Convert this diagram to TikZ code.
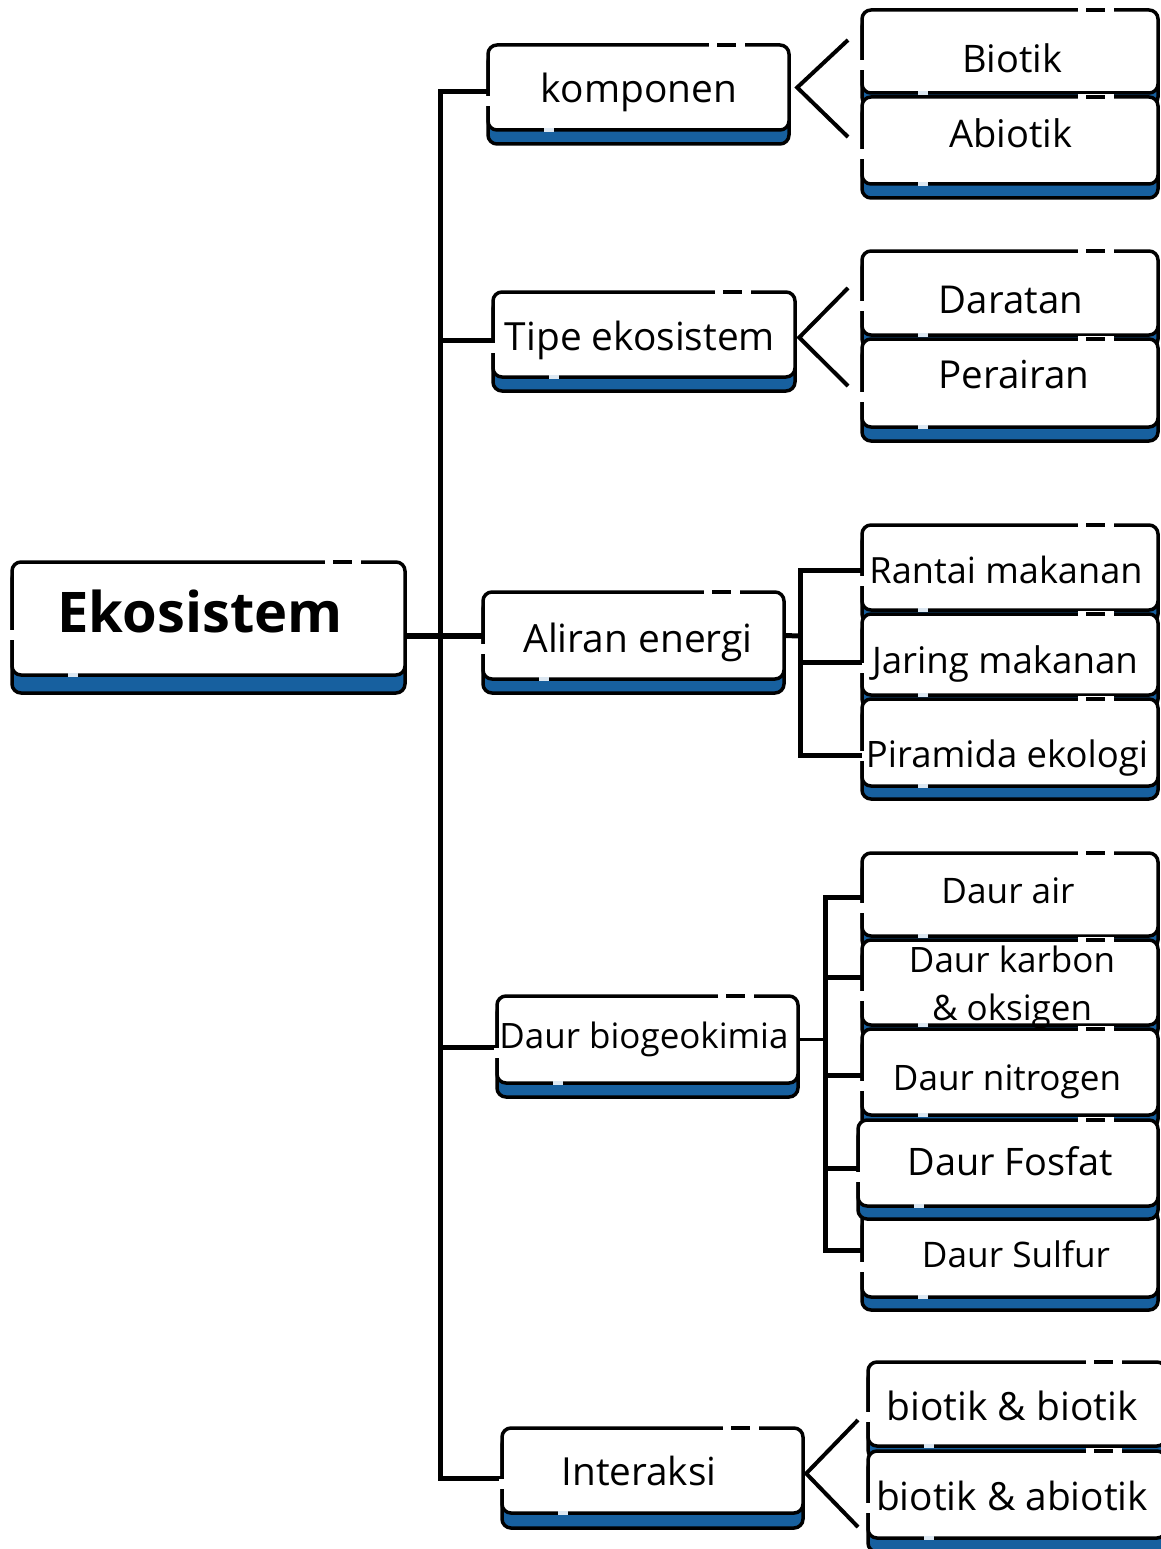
\documentclass[tikz,border=0pt]{standalone}
\usepackage{fontspec}
\usepackage{graphicx}
\setmainfont{Open Sans}
\definecolor{boxblue}{HTML}{17609F}
\newcommand\tw[2]{\resizebox{#1pt}{!}{#2}}
% name, x1, y1, x2, y2, blue depth, text x, text baseline y, text
\newcommand\ebox[9]{%
  \filldraw[fill=boxblue,draw=black,line width=3.5pt,rounded corners=9pt] (#2,#3+8) rectangle (#4,#5+#6);
  \filldraw[fill=white,draw=black,line width=3.5pt,rounded corners=9pt] (#2,#3) rectangle (#4,#5);
  \draw[white,line width=5.5pt] (#4-80,#3) -- (#4-44,#3);
  \draw[black,line width=3.5pt] (#4-72,#3) -- (#4-53,#3);
  \draw[white,line width=5.5pt] (#2,{#3+0.6*(#5-#3)}) -- (#2,{#3+0.6*(#5-#3)+10});
  \draw[white!85!boxblue,line width=4.5pt] (#2+56,#5) -- (#2+66,#5);
  \node[inner sep=0pt,minimum width={(#4-#2)*1pt},minimum height={(#5-#3)*1pt}] (#1) at ({(#2+#4)/2},{(#3+#5)/2}) {};
  \node[inner sep=0pt,anchor=base] (#1-t) at (#7,#8) {#9};
}
\tikzset{
  conn/.style={line width=5pt,black},
  thinconn/.style={line width=3.5pt,black},
  vee/.style={line width=4pt,black,line join=miter}
}
\begin{document}
\begin{tikzpicture}[x=1pt,y=-1pt]
\useasboundingbox (0,0) rectangle (1161,1549);
\fill[white] (0,0) rectangle (1161,1549);

% coordinates for connectors
\coordinate (ttop) at (440,92);
\coordinate (tbot) at (440,1478);
\coordinate (a0) at (800,636);
\coordinate (a1) at (800,570);
\coordinate (a2) at (800,662);
\coordinate (a3) at (800,755);
\coordinate (b1) at (825,897);
\coordinate (b2) at (825,977);
\coordinate (b3) at (825,1075);
\coordinate (b4) at (825,1168);
\coordinate (b5) at (825,1250);
\coordinate (k1) at (848,40);
\coordinate (k2) at (848,137);
\coordinate (p1) at (848,288);
\coordinate (p2) at (848,386);
\coordinate (i1) at (858,1420);
\coordinate (i2) at (858,1527);

% trunk and branches (drawn first, under boxes)
\draw[conn] (488,92) -- (ttop) -- (tbot) -- (502,1478);
\draw[conn] (440,340) -- (493,340);
\draw[conn] (440,1047) -- (497,1047);
\draw[line width=6pt] (405,636) -- (483,636);

% level 1 boxes
\ebox{eko}{12}{562}{405}{675}{18}{200}{632}{\tw{285}{\bfseries Ekosistem}}
\ebox{komp}{488}{45}{789}{130}{14}{639}{103}{\tw{196}{komponen}}
\ebox{tipe}{493}{292}{795}{377}{14}{640}{350}{\tw{270}{Tipe ekosistem}}
\ebox{alir}{483}{592}{784}{679}{14}{638}{652}{\tw{229}{Aliran energi}}
\ebox{bio}{497}{996}{798}{1083}{14}{644}{1048}{\tw{289}{Daur biogeokimia}}
\ebox{inter}{502}{1428}{803}{1513}{15}{639}{1485}{\tw{155}{Interaksi}}

% level 2 boxes
\ebox{biotik}{862}{10}{1158}{93}{13}{1012}{73}{\tw{100}{Biotik}}
\ebox{abiotik}{862}{97}{1158}{184}{14}{1011}{148}{\tw{123}{Abiotik}}
\ebox{darat}{862}{251}{1158}{335}{13}{1011}{313}{\tw{144}{Daratan}}
\ebox{perair}{862}{339}{1158}{427}{14}{1014}{388}{\tw{151}{Perairan}}
\ebox{rantai}{862}{525}{1158}{610}{13}{1006}{583}{\tw{273}{Rantai makanan}}
\ebox{jaring}{862}{614}{1158}{695}{13}{1005}{673}{\tw{266}{Jaring makanan}}
\ebox{piram}{862}{699}{1158}{786}{13}{1007}{767}{\tw{282}{Piramida ekologi}}
\ebox{dair}{862}{853}{1158}{936}{13}{1008}{903}{\tw{133}{Daur air}}
\ebox{dkarb}{862}{940}{1158}{1025}{13}{1012}{1020}{\tw{206}{\fontsize{10}{13.6}\selectfont\begin{tabular}[b]{@{}c@{}}Daur karbon\\\& oksigen\end{tabular}}}
\ebox{dnitr}{862}{1029}{1158}{1115}{13}{1007}{1090}{\tw{228}{Daur nitrogen}}
\ebox{dsulf}{862}{1210}{1158}{1297}{13}{1016}{1267}{\tw{188}{Daur Sulfur}}
\ebox{dfosf}{858}{1120}{1158}{1206}{13}{1010}{1175}{\tw{205}{Daur Fosfat}}
\ebox{bb}{868}{1362}{1166}{1446}{13}{1012}{1420}{\tw{251}{biotik \& biotik}}
\ebox{ba}{868}{1451}{1166}{1538}{14}{1012}{1510}{\tw{272}{biotik \& abiotik}}

% connectors from level 1 to level 2
\draw[vee] (k1) -- ([xshift=8pt]komp.east) -- (k2);
\draw[vee] (p1) -- ([xshift=4pt,yshift=-3pt]tipe.east) -- (p2);
\draw[vee] (i1) -- ([xshift=3pt,yshift=-3pt]inter.east) -- (i2);

\draw[conn] (alir.east) -- (a0);
\draw[conn] (rantai.west |- a1) -- (a1) -- (a3) -- (piram.west |- a3);
\draw[conn] (a2) -- (jaring.west |- a2);

\draw[thinconn] (bio.east) -- (bio.east -| b1);
\draw[conn] (dair.west |- b1) -- (b1) -- (b5) -- (dsulf.west |- b5);
\draw[conn] (b2) -- (dkarb.west |- b2);
\draw[conn] (b3) -- (dnitr.west |- b3);
\draw[conn] (b4) -- (dfosf.west |- b4);
\end{tikzpicture}
\end{document}
